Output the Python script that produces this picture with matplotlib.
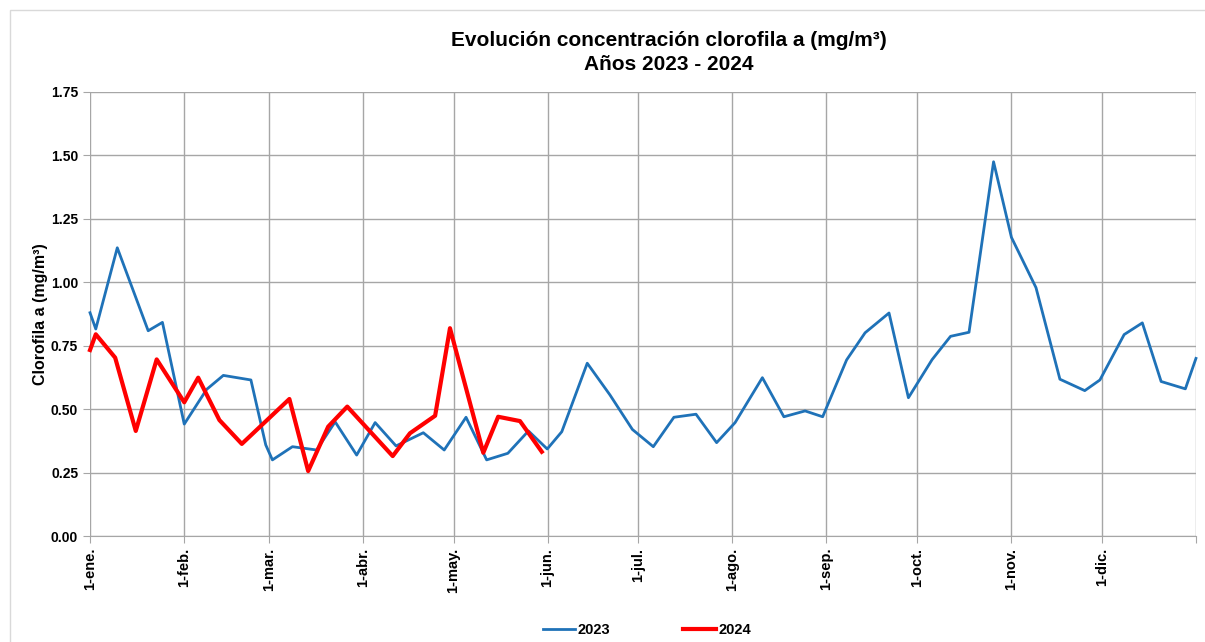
import matplotlib.pyplot as plt
from matplotlib.patches import Rectangle

plt.rcParams['font.family'] = ['Liberation Sans', 'DejaVu Sans']

# day of year for each sample, and chlorophyll values (mg/m3)
dias_2023 = [0, 1.9, 9.0, 19.2, 23.9, 31.1, 38.5, 44.0, 53.1, 58.0, 60.2, 66.8, 74.8,
             80.9, 88.0, 94.1, 101.0, 110.0, 116.9, 124.1, 130.9, 137.9, 144.7, 150.9,
             155.7, 164.1, 171.6, 179.0, 185.9, 192.7, 200.0, 206.8, 212.9, 221.9,
             229.0, 236.0, 241.8, 249.7, 255.8, 263.7, 270.1, 277.9, 284.0, 290.1,
             298.2, 304.1, 312.2, 320.1, 328.3, 333.3, 341.3, 347.3, 353.5, 361.5, 365]
clor_2023 = [0.88, 0.816, 1.136, 0.809, 0.842, 0.441, 0.578, 0.633, 0.615, 0.359, 0.30,
             0.352, 0.339, 0.45, 0.319, 0.447, 0.355, 0.407, 0.339, 0.468, 0.30, 0.326,
             0.414, 0.343, 0.411, 0.681, 0.556, 0.42, 0.352, 0.468, 0.48, 0.368, 0.447,
             0.624, 0.470, 0.493, 0.470, 0.694, 0.801, 0.879, 0.545, 0.695, 0.787, 0.803,
             1.475, 1.177, 0.979, 0.618, 0.573, 0.615, 0.794, 0.84, 0.609, 0.58, 0.70]

dias_2024 = [0, 1.9, 8.3, 15.1, 22.0, 31.1, 35.7, 42.7, 50.1, 65.8, 72.0, 78.6, 84.9,
             99.9, 105.6, 113.9, 118.8, 129.8, 134.7, 141.9, 149.1]
clor_2024 = [0.733, 0.795, 0.703, 0.414, 0.696, 0.527, 0.624, 0.457, 0.363, 0.540, 0.256,
             0.431, 0.51, 0.315, 0.405, 0.474, 0.819, 0.328, 0.470, 0.453, 0.332]

meses_pos = [0, 31, 59, 90, 120, 151, 181, 212, 243, 273, 304, 334]
meses_lab = ['1-ene.', '1-feb.', '1-mar.', '1-abr.', '1-may.', '1-jun.', '1-jul.',
             '1-ago.', '1-sep.', '1-oct.', '1-nov.', '1-dic.']
y_ticks = [0, 0.25, 0.5, 0.75, 1.0, 1.25, 1.5, 1.75]

fig = plt.figure(figsize=(12.05, 6.42), dpi=100)
ax = fig.add_axes([0.0747, 0.1651, 0.9178, 0.6916])

# light frame around the chart area
fig.patches.append(Rectangle((10 / 1205, -0.01), 1.1, 1 - 10 / 642 + 0.01,
                             transform=fig.transFigure, fill=False,
                             edgecolor='#d9d9d9', lw=1))

ax.plot(dias_2023, clor_2023, color='#1f72b8', lw=2, label='2023', zorder=3,
        clip_on=False)
ax.plot(dias_2024, clor_2024, color='#ff0000', lw=3, label='2024', zorder=4,
        clip_on=False)

ax.set_xlim(0, 365)
ax.set_ylim(0, 1.75)
ax.set_xticks(meses_pos + [365])
ax.set_xticklabels(meses_lab + [''], rotation=90, fontweight='bold', fontsize=10.5)
ax.set_yticks(y_ticks)
ax.set_yticklabels([f'{v:.2f}' for v in y_ticks], fontweight='bold', fontsize=10)
ax.grid(True, color='#a6a6a6', lw=1)
ax.set_axisbelow(True)
for s in ['top', 'right', 'left']:
    ax.spines[s].set_visible(False)
ax.spines['bottom'].set_color('#a6a6a6')
ax.tick_params(axis='both', color='#a6a6a6', length=5)

ax.set_ylabel('Clorofila a (mg/m³)', fontweight='bold', fontsize=11.5, labelpad=2)
fig.text(0.555, 0.937, 'Evolución concentración clorofila a (mg/m³)',
         ha='center', va='center', fontweight='bold', fontsize=15)
fig.text(0.555, 0.899, 'Años 2023 - 2024', ha='center', va='center',
         fontweight='bold', fontsize=15)

leg = fig.legend(loc='center', bbox_to_anchor=(0.537, 0.018), ncol=2, frameon=False,
                 prop={'weight': 'bold', 'size': 10.5}, handlelength=2.2,
                 columnspacing=5, handletextpad=0.2)

fig.savefig('out.png', dpi=100)
